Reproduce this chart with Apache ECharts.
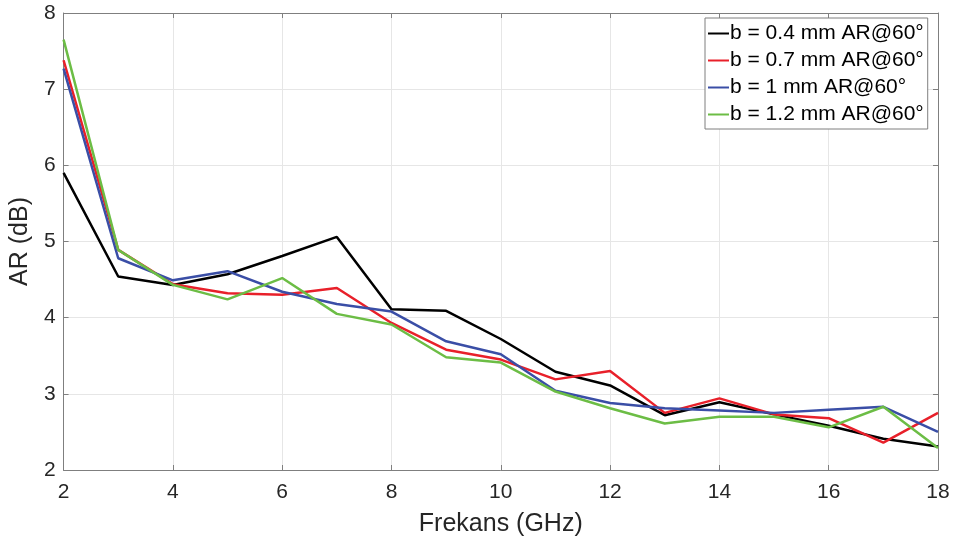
<!DOCTYPE html>
<html>
<head>
<meta charset="utf-8">
<script src="https://cdn.jsdelivr.net/npm/echarts@6/dist/echarts.min.js"></script>
<style>html,body{margin:0;padding:0;background:#fff;}#c{width:960px;height:547px;}</style>
</head>
<body>
<div id="c"></div>
<script>
const freq = [2,3,4,5,6,7,8,9,10,11,12,13,14,15,16,17,18];
const names = ['b = 0.4 mm AR@60°','b = 0.7 mm AR@60°','b = 1 mm AR@60°','b = 1.2 mm AR@60°'];
const b04 = [5.90,4.54,4.43,4.57,4.81,5.06,4.11,4.09,3.72,3.29,3.11,2.72,2.89,2.73,2.58,2.41,2.31];
const b07 = [7.38,4.89,4.44,4.32,4.30,4.39,3.93,3.58,3.45,3.19,3.30,2.75,2.94,2.73,2.68,2.36,2.75];
const b10 = [7.27,4.78,4.49,4.61,4.34,4.18,4.08,3.69,3.52,3.04,2.88,2.81,2.78,2.75,2.79,2.83,2.50];
const b12 = [7.65,4.89,4.43,4.24,4.52,4.05,3.91,3.48,3.41,3.03,2.81,2.61,2.70,2.70,2.56,2.83,2.29];
const colors = ['#000000','#e8202a','#3a4ea6','#6cbd45'];
const xTicks = {min:2, max:18, interval:2};
const yTicks = {min:2, max:8, interval:1};

const seriesData = [b04,b07,b10,b12];
const chart = echarts.init(document.getElementById('c'));
const font = 'Liberation Sans, Arial, sans-serif';
const axisLineStyle = {color:'#7f7f7f', width:1};
function xAxis(show, pos){
  return {type:'value', position:pos, min:xTicks.min, max:xTicks.max, interval:xTicks.interval,
    axisLine:{show:true, onZero:false, lineStyle:axisLineStyle},
    axisTick:{show:true, inside:true, length:5, lineStyle:axisLineStyle},
    axisLabel:{show:show, color:'#262626', fontSize:21, fontFamily:font, margin:12},
    splitLine:{show:show, lineStyle:{color:'#e6e6e6', width:1}},
    name: show ? 'Frekans (GHz)' : '', nameLocation:'middle', nameGap:42,
    nameTextStyle:{color:'#262626', fontSize:25, fontFamily:font}};
}
function yAxis(show, pos){
  return {type:'value', position:pos, min:yTicks.min, max:yTicks.max, interval:yTicks.interval,
    axisLine:{show:true, onZero:false, lineStyle:axisLineStyle},
    axisTick:{show:true, inside:true, length:5, lineStyle:axisLineStyle},
    axisLabel:{show:show, color:'#262626', fontSize:21, fontFamily:font, margin:8},
    splitLine:{show:show, lineStyle:{color:'#e6e6e6', width:1}},
    name: show ? 'AR (dB)' : '', nameLocation:'middle', nameGap:28,
    nameTextStyle:{color:'#262626', fontSize:25, fontFamily:font}};
}
chart.setOption({
  backgroundColor:'#ffffff',
  animation:false,
  grid:{left:59, right:22, top:13, bottom:77, containLabel:false},
  xAxis:[xAxis(true,'bottom'), xAxis(false,'top')],
  yAxis:[yAxis(true,'left'), yAxis(false,'right')],
  legend:{orient:'vertical', left:705, top:18, icon:'rect', itemWidth:21, itemHeight:2, itemGap:6,
    padding:[5,4,4,3], backgroundColor:'#ffffff', borderColor:'#7f7f7f', borderWidth:1,
    textStyle:{color:'#000', fontSize:21, fontFamily:font, padding:[0,0,0,-4]},
    data:names},
  series: seriesData.map((d,i)=>({
    name:names[i], type:'line', xAxisIndex:0, yAxisIndex:0,
    data: freq.map((f,j)=>[f,d[j]]), symbol:'none',
    lineStyle:{color:colors[i], width:2.5}, itemStyle:{color:colors[i]}
  }))
});
</script>
</body>
</html>
